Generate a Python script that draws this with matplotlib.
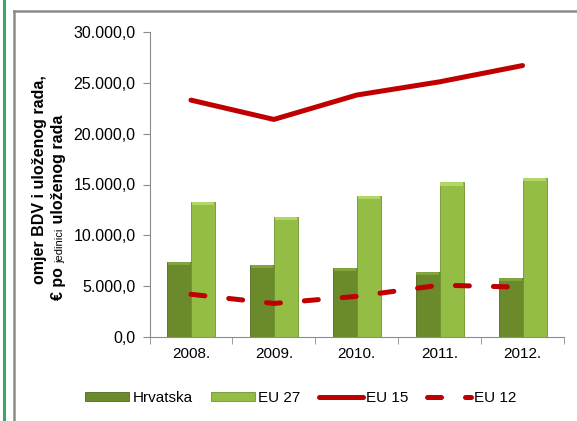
import matplotlib.pyplot as plt
import numpy as np
from matplotlib.lines import Line2D
from matplotlib.patches import Rectangle

plt.rcParams["font.family"] = ["Liberation Sans", "DejaVu Sans"]

years = ["2008.", "2009.", "2010.", "2011.", "2012."]
hrvatska = [7350, 7050, 6750, 6400, 5800]
eu27 = [13300, 11800, 13900, 15200, 15600]
eu15 = [23300, 21400, 23800, 25100, 26700]
eu12 = [4200, 3300, 4000, 5100, 4900]

RED = "#c00000"
DARK_GREEN = "#6a8a2c"
LIGHT_GREEN = "#94bd45"

fig = plt.figure(figsize=(5.77, 4.21), dpi=100)

# outer decoration: green line at left and grey frame
fig.add_artist(Line2D([4 / 577, 4 / 577], [0, 1], color="#3aa86a", lw=2.2))
fig.add_artist(Line2D([13.5 / 577, 13.5 / 577], [0, 1 - 10.5 / 421], color="#8c8c8c", lw=1.8))
fig.add_artist(Line2D([13.5 / 577, 1], [1 - 10.5 / 421, 1 - 10.5 / 421], color="#8c8c8c", lw=1.8))

ax = fig.add_axes([149.5 / 577, 84 / 421, 414.5 / 577, 305 / 421])

x = np.arange(len(years))
w = 0.29
b1 = ax.bar(x - w / 2, hrvatska, w, color=DARK_GREEN, edgecolor="#4e6a1c", linewidth=0.6,
            label="Hrvatska", zorder=2)
b2 = ax.bar(x + w / 2, eu27, w, color=LIGHT_GREEN, edgecolor="#6f9330", linewidth=0.6,
            label="EU 27", zorder=2)
# lighter top cap on each bar
for xi, h in zip(x - w / 2, hrvatska):
    ax.add_patch(Rectangle((xi - w / 2 + 0.01, h - 300), w - 0.02, 300, color="#82a33e", lw=0, zorder=3))
for xi, h in zip(x + w / 2, eu27):
    ax.add_patch(Rectangle((xi - w / 2 + 0.01, h - 300), w - 0.02, 300, color="#b2d665", lw=0, zorder=3))

l1, = ax.plot(x, eu15, color=RED, lw=3.6, solid_capstyle="round", solid_joinstyle="round",
              label="EU 15", zorder=4)
l2, = ax.plot(x, eu12, color=RED, lw=3.6, linestyle=(0, (2.8, 4.8)), dash_capstyle="round",
              label="EU 12", zorder=4)

ax.set_xlim(-0.5, len(years) - 0.5)
ax.set_ylim(0, 30000)
yt = np.arange(0, 30001, 5000)
ax.set_yticks(yt)
ax.set_yticklabels([f"{v:,.1f}".replace(",", "X").replace(".", ",").replace("X", ".")
                    for v in yt], fontsize=11.5)
ax.set_xticks(x)
ax.set_xticklabels(years, fontsize=11)
ax.set_xticks(np.arange(-0.5, len(years)), minor=True)
ax.tick_params(axis="x", which="major", length=0, pad=7)
ax.tick_params(axis="x", which="minor", length=5, color="#8c8c8c")
ax.tick_params(axis="y", length=5, color="#8c8c8c", pad=5)
for s in ["top", "right"]:
    ax.spines[s].set_visible(False)
for s in ["left", "bottom"]:
    ax.spines[s].set_color("#8c8c8c")

# y label, two lines with a small word in the second
fig.text(40 / 577, 1 - 180 / 421, "omjer BDV i uloženog rada,", rotation=90,
         fontsize=11.5, fontweight="bold", ha="center", va="center")
t1 = fig.text(58 / 577, 1 - 300 / 421, "€ po ", rotation=90, fontsize=11.5,
              fontweight="bold", ha="center", va="bottom")
t2 = ax.annotate("jedinici", xy=(1, 1), xycoords=t1, rotation=90, fontsize=8,
                 ha="right", va="bottom", annotation_clip=False)
ax.annotate(" uloženog rada", xy=(1, 1), xycoords=t2, rotation=90, fontsize=11.5,
            fontweight="bold", ha="right", va="bottom", annotation_clip=False)

ax.legend([b1, b2, l1, l2], ["Hrvatska", "EU 27", "EU 15", "EU 12"],
          loc="center", bbox_to_anchor=(0.365, -0.2), ncol=4, frameon=False,
          fontsize=11, handlelength=2.9, handletextpad=0.2, columnspacing=1.2,
          handleheight=0.45)

fig.savefig("out.png", dpi=100)
